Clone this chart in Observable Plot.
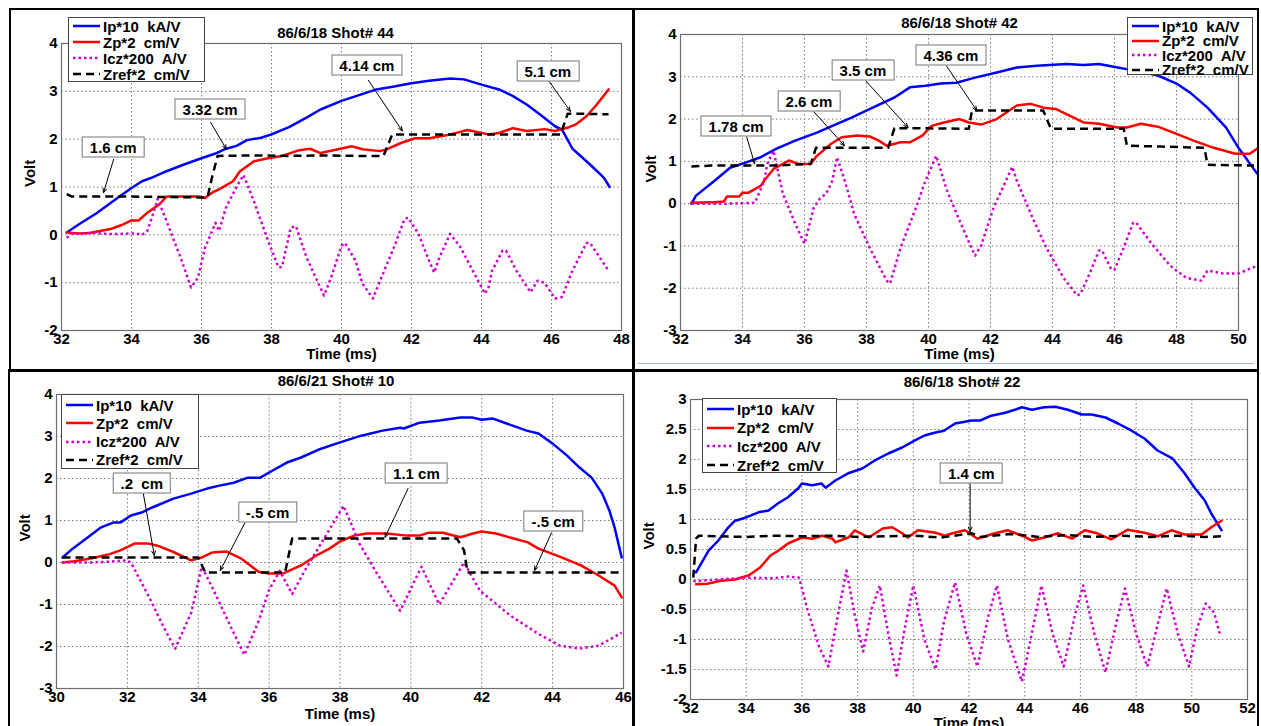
<!DOCTYPE html>
<html><head><meta charset="utf-8">
<script src="https://cdn.jsdelivr.net/npm/d3@7"></script>
<script src="https://cdn.jsdelivr.net/npm/@observablehq/plot@0.6"></script>
<style>
body{margin:0;background:#fff;}
#root{position:relative;width:1261px;height:726px;overflow:hidden;background:#fff;font-family:"Liberation Sans",Arial,sans-serif;font-weight:bold;}
#root > svg{position:absolute;}
.legend{position:absolute;background:#fff;border:1px solid #444;box-sizing:border-box;font-size:15px;color:#000;}
.legend .row{position:absolute;left:0;white-space:pre;display:flex;align-items:center;}
#root .legend .row svg{position:static;display:block;margin-left:4px;margin-right:3px;}
.ann{position:absolute;background:#fff;border:1px solid #777;font-size:15px;line-height:19px;padding:0 7px;transform:translate(-50%,-50%);white-space:pre;color:#000;}
.bd{position:absolute;background:#000;}
</style></head>
<body><div id="root"></div>
<script>
// ---------- series styles ----------
const seriesKeys = ["ip", "zp", "icz", "zref"];
const seriesLabels = ["Ip*10  kA/V", "Zp*2  cm/V", "Icz*200  A/V", "Zref*2  cm/V"];
const seriesColors = ["#0000ff", "#ff0000", "#d000d0", "#000000"];
const seriesDash = [null, null, "2.5,3", "8,5"];

// ---------- Panel 1: 86/6/18 Shot# 44 ----------
const p1Ip = [[32.15,0.05],[32.5,0.22],[33.0,0.45],[33.5,0.72],[34.0,0.98],[34.3,1.12],[34.6,1.2],[35.0,1.33],[35.5,1.47],[36.0,1.6],[36.4,1.7],[36.7,1.8],[37.0,1.86],[37.3,1.98],[37.7,2.03],[38.0,2.1],[38.5,2.25],[39.0,2.45],[39.4,2.62],[40.0,2.8],[40.5,2.92],[41.0,3.04],[41.5,3.1],[42.0,3.17],[42.5,3.22],[43.1,3.27],[43.5,3.25],[44.0,3.14],[44.5,3.04],[44.9,2.9],[45.3,2.72],[45.7,2.5],[46.1,2.27],[46.3,2.2],[46.6,1.8],[47.1,1.47],[47.5,1.19],[47.66,1.0]];
const p1Zp = [[32.15,0.05],[32.5,0.03],[32.8,0.04],[33.1,0.08],[33.4,0.12],[33.7,0.2],[34.0,0.3],[34.2,0.3],[34.45,0.46],[34.8,0.64],[35.0,0.8],[35.5,0.8],[35.9,0.8],[36.1,0.77],[36.3,0.88],[36.5,0.95],[36.9,1.12],[37.1,1.33],[37.5,1.54],[37.9,1.6],[38.3,1.65],[38.8,1.77],[39.1,1.8],[39.4,1.71],[39.9,1.79],[40.3,1.85],[40.6,1.79],[41.1,1.75],[41.3,1.79],[41.7,1.92],[42.1,2.02],[42.5,2.02],[43.0,2.08],[43.6,2.19],[44.2,2.1],[44.5,2.13],[44.9,2.23],[45.3,2.17],[45.8,2.21],[46.1,2.17],[46.5,2.25],[46.7,2.31],[47.0,2.48],[47.3,2.73],[47.63,3.04]];
const p1Icz = [[32.15,-0.06],[32.3,0.02],[32.8,0.04],[33.3,0.02],[33.7,0.02],[34.1,0.03],[34.3,0.0],[34.45,0.08],[34.6,0.4],[34.75,0.75],[35.0,0.29],[35.4,-0.47],[35.7,-1.1],[35.9,-0.9],[36.1,-0.27],[36.4,0.25],[36.5,0.08],[36.7,0.57],[37.0,1.0],[37.2,1.25],[37.5,0.7],[37.9,-0.12],[38.2,-0.68],[38.3,-0.67],[38.55,0.15],[38.7,0.18],[39.0,-0.47],[39.5,-1.27],[39.7,-0.9],[40.0,-0.23],[40.1,-0.17],[40.4,-0.54],[40.6,-1.02],[40.9,-1.33],[41.1,-0.96],[41.5,-0.26],[41.8,0.33],[41.9,0.36],[42.2,0.02],[42.5,-0.54],[42.65,-0.79],[42.8,-0.47],[43.1,0.02],[43.4,-0.26],[43.8,-0.82],[44.1,-1.23],[44.2,-1.1],[44.3,-0.75],[44.6,-0.33],[44.7,-0.33],[45.0,-0.75],[45.4,-1.2],[45.6,-0.96],[45.8,-1.0],[46.1,-1.33],[46.3,-1.3],[46.6,-0.75],[47.0,-0.17],[47.1,-0.17],[47.63,-0.75]];
const p1Zref = [[32.15,0.85],[32.3,0.8],[33,0.8],[34,0.8],[35,0.79],[36.17,0.78],[36.3,1.2],[36.46,1.65],[37.5,1.66],[38.5,1.65],[39.5,1.66],[40.5,1.65],[41.2,1.65],[41.45,2.1],[42.5,2.1],[43.5,2.1],[44.5,2.1],[45.5,2.1],[46.26,2.1],[46.46,2.53],[47,2.53],[47.63,2.52]];
const p1Ann = [
  {label:"1.6 cm", bx:33.49, by:1.83, ax:33.49, ay:1.58, tx:33.2, ty:0.88},
  {label:"3.32 cm", bx:36.26, by:2.63, ax:36.26, ay:2.35, tx:36.71, ty:1.79},
  {label:"4.14 cm", bx:40.74, by:3.54, ax:40.77, ay:3.23, tx:41.74, ty:2.17},
  {label:"5.1 cm", bx:45.91, by:3.42, ax:45.91, ay:3.23, tx:46.54, ty:2.58}
];
const p1XTicks = [32,34,36,38,40,42,44,46,48];
const p1YTicks = [-2,-1,0,1,2,3,4];

// ---------- Panel 2: 86/6/18 Shot# 42 ----------
const p2Ip = [[32.35,0],[32.5,0.19],[33.1,0.54],[33.6,0.85],[34.1,0.97],[34.56,1.09],[35.1,1.3],[35.7,1.49],[36.4,1.68],[36.9,1.84],[37.5,2.03],[38.2,2.27],[38.9,2.51],[39.4,2.75],[39.9,2.79],[40.4,2.84],[40.9,2.86],[41.5,2.98],[42.2,3.1],[42.85,3.22],[43.5,3.26],[44.45,3.3],[45.0,3.28],[45.5,3.3],[46.1,3.22],[46.7,3.14],[47.4,3.03],[48.0,2.84],[48.45,2.62],[49.0,2.27],[49.6,1.8],[50.0,1.32],[50.6,0.71]];
const p2Zp = [[32.35,0.02],[33.0,0.03],[33.4,0.05],[33.5,0.17],[33.9,0.17],[34.0,0.26],[34.2,0.26],[34.6,0.43],[34.7,0.54],[35.0,0.82],[35.5,1.02],[35.8,0.94],[36.2,0.94],[36.4,1.13],[36.85,1.41],[37.2,1.57],[37.7,1.61],[38.1,1.59],[38.4,1.49],[38.65,1.37],[39.1,1.45],[39.4,1.45],[39.8,1.61],[40.1,1.84],[40.5,1.92],[41.0,2.0],[41.3,1.92],[41.7,1.87],[42.2,2.0],[42.5,2.15],[42.85,2.32],[43.3,2.36],[43.7,2.27],[44.1,2.24],[44.55,2.08],[45.0,1.92],[45.5,1.89],[46.1,1.8],[46.4,1.8],[46.85,1.89],[47.4,1.82],[48.0,1.65],[48.55,1.49],[49.2,1.32],[49.9,1.18],[50.36,1.18],[50.6,1.3]];
const p2Icz = [[32.35,0],[33,0],[33.5,0],[34,0.01],[34.4,0.02],[34.7,0.54],[34.8,0.94],[35.0,1.25],[35.3,0.24],[35.7,-0.47],[36.0,-0.95],[36.3,-0.09],[36.5,0.12],[36.7,0.24],[36.9,0.54],[37.05,1.1],[37.3,0.54],[37.6,-0.24],[38.1,-1.04],[38.65,-1.82],[38.76,-1.89],[39.1,-1.04],[39.6,-0.09],[39.9,0.54],[40.25,1.13],[40.6,0.3],[41.04,-0.47],[41.5,-1.23],[41.7,-0.99],[42.1,-0.09],[42.4,0.38],[42.7,0.87],[42.85,0.54],[43.3,-0.24],[43.8,-1.04],[44.35,-1.75],[44.8,-2.17],[44.9,-2.14],[45.2,-1.65],[45.5,-1.11],[45.6,-1.11],[45.9,-1.56],[46.0,-1.56],[46.3,-1.04],[46.6,-0.45],[46.7,-0.45],[47.2,-0.95],[47.8,-1.47],[48.3,-1.75],[48.8,-1.82],[49.0,-1.58],[49.5,-1.65],[50.0,-1.65],[50.6,-1.47]];
const p2Zref = [[32.35,0.88],[33,0.9],[34,0.9],[35,0.9],[36.2,0.94],[36.37,1.32],[37.5,1.32],[38.7,1.32],[38.9,1.78],[40,1.78],[41.3,1.77],[41.4,2.2],[42.5,2.2],[43.7,2.2],[43.95,1.77],[45,1.77],[46.3,1.77],[46.4,1.37],[47.5,1.35],[48.9,1.32],[49.0,0.92],[50.5,0.9]];
const p2Ann = [
  {label:"1.78 cm", bx:33.81, by:1.82, ax:34.12, ay:1.61, tx:34.39, ty:0.95},
  {label:"2.6 cm", bx:36.16, by:2.41, ax:36.27, ay:2.2, tx:37.29, ty:1.37},
  {label:"3.5 cm", bx:37.9, by:3.14, ax:37.97, ay:2.91, tx:39.34, ty:1.8},
  {label:"4.36 cm", bx:40.74, by:3.5, ax:40.53, ay:3.31, tx:41.56, ty:2.2}
];
const p2XTicks = [32,34,36,38,40,42,44,46,48,50];
const p2YTicks = [-3,-2,-1,0,1,2,3,4];

// ---------- Panel 3: 86/6/21 Shot# 10 ----------
const p3Ip = [[30.17,0.12],[30.4,0.29],[30.7,0.48],[31.24,0.83],[31.6,0.95],[31.8,0.95],[32.1,1.12],[32.4,1.19],[32.7,1.31],[33.3,1.52],[33.8,1.64],[34.25,1.76],[34.6,1.83],[35.0,1.9],[35.4,2.02],[35.75,2.02],[36.1,2.19],[36.5,2.38],[36.9,2.5],[37.4,2.69],[38.0,2.86],[38.6,3.02],[39.2,3.14],[39.7,3.21],[39.8,3.19],[40.25,3.33],[40.8,3.38],[41.4,3.45],[41.75,3.45],[42.0,3.4],[42.3,3.43],[42.7,3.31],[43.27,3.14],[43.6,3.07],[44.0,2.83],[44.4,2.55],[44.76,2.26],[45.1,2.02],[45.4,1.64],[45.6,1.24],[45.75,0.83],[45.9,0.29],[45.95,0.12]];
const p3Zp = [[30.17,0.0],[30.5,0.03],[31.0,0.1],[31.5,0.2],[31.8,0.29],[32.2,0.45],[32.6,0.45],[32.85,0.4],[33.3,0.25],[33.8,0.05],[34.1,0.12],[34.4,0.24],[34.8,0.26],[35.2,0.1],[35.7,-0.22],[36.0,-0.26],[36.4,-0.26],[36.9,-0.07],[37.3,0.15],[37.7,0.33],[38.0,0.5],[38.4,0.64],[38.75,0.69],[39.3,0.69],[39.9,0.64],[40.25,0.64],[40.5,0.71],[40.9,0.71],[41.4,0.6],[41.75,0.69],[42.0,0.74],[42.4,0.69],[42.9,0.57],[43.3,0.48],[43.6,0.33],[44.2,0.14],[44.8,-0.07],[45.3,-0.31],[45.75,-0.55],[45.95,-0.83]];
const p3Icz = [[30.17,0],[31,0],[31.5,0.02],[32.0,0.05],[32.1,0.0],[32.6,-0.8],[33.0,-1.5],[33.35,-2.05],[33.8,-1.2],[34.1,-0.1],[34.4,-0.6],[34.9,-1.5],[35.3,-2.2],[35.7,-1.4],[36.0,-0.65],[36.3,-0.2],[36.65,-0.75],[37.0,-0.2],[37.5,0.5],[38.1,1.35],[38.55,0.45],[39.0,-0.2],[39.7,-1.15],[40.3,-0.1],[40.8,-1.0],[41.5,0.0],[41.95,-0.67],[42.8,-1.26],[43.6,-1.7],[44.2,-1.98],[44.76,-2.05],[45.3,-1.98],[45.95,-1.67]];
const p3Zref = [[30.17,0.12],[31,0.12],[32,0.12],[33,0.12],[34.0,0.12],[34.2,-0.24],[35,-0.24],[36,-0.24],[36.45,-0.24],[36.65,0.57],[38,0.57],[39,0.57],[40,0.57],[41.3,0.57],[41.5,0.29],[41.6,-0.24],[43,-0.24],[44,-0.24],[45.95,-0.24]];
const p3Ann = [
  {label:".2  cm", bx:32.42, by:1.88, ax:32.45, ay:1.64, tx:32.76, ty:0.17},
  {label:"-.5 cm", bx:35.97, by:1.19, ax:35.32, ay:0.95, tx:34.62, ty:-0.19},
  {label:"1.1 cm", bx:40.17, by:2.12, ax:39.92, ay:1.76, tx:39.27, ty:0.6},
  {label:"-.5 cm", bx:44.03, by:0.98, ax:43.97, ay:0.71, tx:43.49, ty:-0.19}
];
const p3XTicks = [30,32,34,36,38,40,42,44,46];
const p3YTicks = [-3,-2,-1,0,1,2,3,4];

// ---------- Panel 4: 86/6/18 Shot# 22 ----------
const p4Ip = [[32.2,0.12],[32.65,0.48],[33.0,0.65],[33.36,0.87],[33.6,0.98],[33.97,1.03],[34.44,1.12],[34.8,1.15],[35.15,1.27],[35.5,1.37],[35.87,1.52],[36.0,1.6],[36.37,1.57],[36.7,1.6],[36.85,1.53],[37.2,1.65],[37.66,1.77],[38.17,1.85],[38.6,1.98],[39.1,2.1],[39.6,2.2],[40.06,2.32],[40.4,2.4],[40.8,2.45],[41.1,2.48],[41.5,2.6],[42.1,2.65],[42.4,2.65],[42.8,2.73],[43.3,2.78],[43.65,2.83],[43.9,2.87],[44.26,2.83],[44.7,2.87],[45.1,2.88],[45.55,2.83],[46.05,2.75],[46.4,2.75],[46.9,2.7],[47.35,2.6],[47.84,2.48],[48.3,2.35],[48.77,2.15],[49.3,2.02],[49.74,1.77],[50.1,1.53],[50.46,1.32],[50.7,1.1],[51.07,0.82]];
const p4Zp = [[32.2,-0.08],[32.6,-0.07],[33.1,-0.02],[33.6,0.0],[34.1,0.07],[34.5,0.2],[34.87,0.4],[35.15,0.48],[35.5,0.6],[36.0,0.7],[36.37,0.68],[36.73,0.73],[37.1,0.68],[37.2,0.62],[37.67,0.7],[37.9,0.82],[38.4,0.7],[38.9,0.85],[39.24,0.87],[39.6,0.77],[39.8,0.7],[40.17,0.82],[40.8,0.78],[41.14,0.73],[41.4,0.77],[41.86,0.82],[42.3,0.68],[42.93,0.77],[43.4,0.82],[43.9,0.73],[44.26,0.65],[44.7,0.7],[45.2,0.77],[45.7,0.68],[46.16,0.82],[46.6,0.77],[47.1,0.67],[47.7,0.83],[48.3,0.78],[48.77,0.72],[49.27,0.82],[49.74,0.75],[50.35,0.75],[50.7,0.87],[51.07,0.98]];
const p4Icz = [[32.1,-0.03],[33,0.0],[34,0.03],[35,0.02],[35.5,0.05],[35.9,0.03],[36.2,-0.5],[36.6,-1.1],[36.95,-1.45],[37.25,-0.7],[37.6,0.15],[37.9,-0.6],[38.2,-1.2],[38.5,-0.5],[38.8,-0.1],[39.1,-0.9],[39.4,-1.6],[39.7,-0.8],[40.0,-0.1],[40.4,-1.0],[40.8,-1.5],[41.1,-0.7],[41.5,-0.05],[41.9,-0.9],[42.3,-1.45],[42.7,-0.6],[43.0,-0.1],[43.4,-1.0],[43.9,-1.7],[44.3,-0.8],[44.6,-0.1],[45.0,-0.9],[45.4,-1.45],[45.8,-0.6],[46.1,-0.1],[46.5,-0.9],[46.9,-1.55],[47.3,-0.7],[47.6,-0.15],[48.0,-0.9],[48.4,-1.45],[48.8,-0.7],[49.1,-0.15],[49.5,-0.9],[49.9,-1.45],[50.2,-0.8],[50.5,-0.4],[50.8,-0.55],[51.0,-0.9]];
const p4Zref = [[32.1,0.03],[32.2,0.68],[32.3,0.73],[33,0.72],[34,0.71],[35,0.73],[36,0.72],[37,0.73],[38,0.71],[39,0.72],[40,0.73],[41,0.7],[42.1,0.77],[42.4,0.71],[43.5,0.76],[44.5,0.71],[45.5,0.74],[46.5,0.71],[47.5,0.73],[48.5,0.71],[49.5,0.73],[50.5,0.71],[51.1,0.72]];
const p4Ann = [
  {label:"1.4 cm", bx:42.1, by:1.77, ax:42.04, ay:1.6, tx:42.04, ty:0.8}
];
const p4XTicks = [32,34,36,38,40,42,44,46,48,50,52];
const p4YTicks = [-2,-1.5,-1,-0.5,0,0.5,1,1.5,2,2.5,3];

// ---------- layout ----------
const panels = [
  {title:"86/6/18 Shot# 44", data:[p1Ip,p1Zp,p1Icz,p1Zref], ann:p1Ann, xt:p1XTicks, yt:p1YTicks,
   left:10, top:9, w:623, h:361, ml:51, mr:12, mt:34, mb:40, titleDy:-10, titleDx:-6, voltDx:-31, timeDy:24,
   legend:{left:68, top:17, w:137, h:65, row:16, first:8}},
  {title:"86/6/18 Shot# 42", data:[p2Ip,p2Zp,p2Icz,p2Zref], ann:p2Ann, xt:p2XTicks, yt:p2YTicks,
   left:635, top:9, w:624, h:361, ml:45, mr:21, mt:25, mb:40, titleDy:-11, titleDx:0, voltDx:-29, timeDy:24,
   legend:{left:1127, top:17, w:126, h:58, row:14.5, first:8}},
  {title:"86/6/21 Shot# 10", data:[p3Ip,p3Zp,p3Icz,p3Zref], ann:p3Ann, xt:p3XTicks, yt:p3YTicks,
   left:9, top:372, w:624, h:354, ml:47, mr:10, mt:22, mb:38, titleDy:-13, titleDx:-4, voltDx:-31, timeDy:26,
   legend:{left:61, top:394, w:138, h:75, row:18.3, first:10}},
  {title:"86/6/18 Shot# 22", data:[p4Ip,p4Zp,p4Icz,p4Zref], ann:p4Ann, xt:p4XTicks, yt:p4YTicks,
   left:635, top:372, w:624, h:354, ml:55, mr:12, mt:27, mb:27, titleDy:-17, titleDx:-7, voltDx:-41, timeDy:24,
   legend:{left:702, top:398, w:135, h:75, row:18.7, first:10}}
];

const root = document.getElementById("root");
const fmt = d => String(d);

for (const P of panels) {
  const ydom = [P.yt[0], P.yt[P.yt.length-1]];
  const xdom = [P.xt[0], P.xt[P.xt.length-1]];
  const marks = [
    Plot.gridX(P.xt, {stroke:"#7a7a7a", strokeOpacity:1, strokeWidth:1, strokeDasharray:"1.5,2.5"}),
    Plot.gridY(P.yt, {stroke:"#7a7a7a", strokeOpacity:1, strokeWidth:1, strokeDasharray:"1.5,2.5"}),
    Plot.frame({stroke:"#6e6e6e", strokeWidth:1.2}),
    Plot.axisX(P.xt, {tickSize:0, tickPadding:3, label:null, tickFormat:fmt}),
    Plot.axisY(P.yt, {tickSize:0, tickPadding:4, label:null, tickFormat:fmt})
  ];
  P.data.forEach((arr, i) => {
    marks.push(Plot.line(arr, {x:d=>d[0], y:d=>d[1], stroke:seriesColors[i], strokeWidth:2.5,
      strokeDasharray:seriesDash[i] ?? undefined, strokeLinejoin:"round", strokeLinecap: seriesDash[i] ? "butt" : "round"}));
  });
  marks.push(Plot.arrow(P.ann, {x1:"ax", y1:"ay", x2:"tx", y2:"ty", stroke:"#000", strokeWidth:1, headLength:7, headAngle:45}));
  marks.push(Plot.text([P.title], {frameAnchor:"top", lineAnchor:"middle", dy:P.titleDy, dx:P.titleDx, text:d=>d}));
  marks.push(Plot.text(["Volt"], {frameAnchor:"left", lineAnchor:"middle", rotate:-90, dx:P.voltDx, text:d=>d}));
  marks.push(Plot.text(["Time (ms)"], {frameAnchor:"bottom", lineAnchor:"middle", dy:P.timeDy, text:d=>d}));

  const plot = Plot.plot({
    width:P.w, height:P.h,
    marginLeft:P.ml, marginRight:P.mr, marginTop:P.mt, marginBottom:P.mb,
    x:{domain:xdom}, y:{domain:ydom},
    style:{fontFamily:"'Liberation Sans', Arial, sans-serif", fontSize:"15px", fontWeight:"bold", color:"#000", background:"transparent", overflow:"visible"},
    marks
  });
  plot.style.left = P.left + "px";
  plot.style.top = P.top + "px";
  root.appendChild(plot);

  const xs = plot.scale("x"), ys = plot.scale("y");
  for (const a of P.ann) {
    const d = document.createElement("div");
    d.className = "ann";
    d.textContent = a.label;
    d.style.left = (P.left + xs.apply(a.bx)) + "px";
    d.style.top = (P.top + ys.apply(a.by)) + "px";
    root.appendChild(d);
  }

  const L = P.legend;
  const lg = document.createElement("div");
  lg.className = "legend";
  Object.assign(lg.style, {left:L.left+"px", top:L.top+"px", width:L.w+"px", height:L.h+"px"});
  seriesLabels.forEach((lab, i) => {
    const row = document.createElement("div");
    row.className = "row";
    row.style.top = (L.first + i*L.row - 9) + "px";
    row.style.height = "18px";
    const dash = seriesDash[i] ? ` stroke-dasharray="${seriesDash[i]}"` : "";
    row.innerHTML = `<svg width="27" height="6"><line x1="0" y1="3" x2="27" y2="3" stroke="${seriesColors[i]}" stroke-width="2.5"${dash}/></svg><span></span>`;
    row.querySelector("span").textContent = lab;
    lg.appendChild(row);
  });
  root.appendChild(lg);
}

// panel borders
const borders = [
  [9,8,1250,2],[9,8,2,362],[632,8,3,718],[1257,8,2,718],[9,369,1250,3],[8,369,2,357]
];
for (const [x,y,w,h] of borders) {
  const b = document.createElement("div");
  b.className = "bd";
  Object.assign(b.style, {left:x+"px", top:y+"px", width:w+"px", height:h+"px"});
  root.appendChild(b);
}
const faint = document.createElement("div");
Object.assign(faint.style, {position:"absolute", left:"638px", top:"363px", width:"616px", height:"1px", background:"#9fb4e0"});
root.appendChild(faint);
</script>
</body></html>
